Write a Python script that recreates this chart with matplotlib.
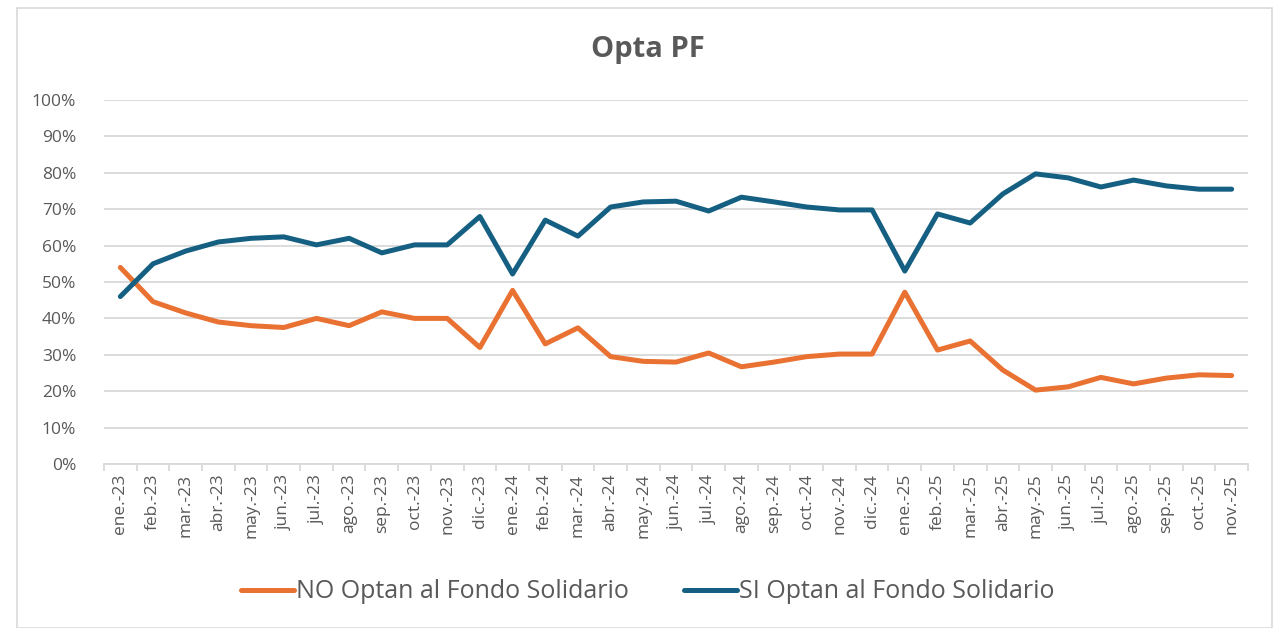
import matplotlib.pyplot as plt
from matplotlib.patches import Rectangle
from matplotlib.ticker import PercentFormatter

plt.rcParams['font.family'] = ['Open Sans', 'DejaVu Sans']

months = ['ene.', 'feb.', 'mar.', 'abr.', 'may.', 'jun.',
          'jul.', 'ago.', 'sep.', 'oct.', 'nov.', 'dic.']
labels = [m + '-' + y for y in ['23', '24', '25'] for m in months][:35]

no_opta = [54.0, 44.6, 41.5, 39.0, 38.0, 37.5, 40.0, 38.0, 41.8, 40.0, 40.0, 32.0,
           47.7, 33.0, 37.4, 29.5, 28.2, 28.0, 30.5, 26.7, 28.0, 29.5, 30.2, 30.2,
           47.2, 31.3, 33.8, 25.8, 20.3, 21.2, 23.8, 22.0, 23.6, 24.5, 24.3]
si_opta = [46.0, 55.0, 58.5, 61.0, 62.0, 62.4, 60.2, 62.0, 58.0, 60.2, 60.2, 68.0,
           52.2, 67.0, 62.6, 70.6, 72.0, 72.2, 69.5, 73.3, 72.0, 70.6, 69.8, 69.8,
           53.0, 68.7, 66.2, 74.2, 79.7, 78.6, 76.1, 78.0, 76.4, 75.5, 75.5]

grey = '#595959'
fig = plt.figure(figsize=(12.81, 6.28), dpi=100)
fig.patches.append(Rectangle((17 / 1281, 0), 1255 / 1281, 620 / 628, transform=fig.transFigure,
                             fill=False, edgecolor='#D9D9D9', linewidth=1.2))
ax = fig.add_axes([104 / 1281, 1 - 464 / 628, 1144 / 1281, 364 / 628])

x = range(len(labels))
ax.plot(x, no_opta, color='#E97132', lw=3.6, solid_capstyle='round', label='NO Optan al Fondo Solidario')
ax.plot(x, si_opta, color='#156082', lw=3.6, solid_capstyle='round', label='SI Optan al Fondo Solidario')

ax.set_xlim(-0.5, len(labels) - 0.5)
ax.set_ylim(0, 100)
ax.set_yticks(range(0, 101, 10))
ax.yaxis.set_major_formatter(PercentFormatter(decimals=0))
ax.set_xticks(list(x))
ax.set_xticklabels(labels, rotation=90)
ax.set_xticks([i - 0.5 for i in range(len(labels) + 1)], minor=True)

ax.grid(axis='y', color='#D9D9D9', lw=1.3)
ax.set_axisbelow(True)
for s in ['top', 'right', 'left']:
    ax.spines[s].set_visible(False)
ax.spines['bottom'].set_color('#D9D9D9')
ax.spines['bottom'].set_linewidth(1.3)
ax.tick_params(axis='y', length=0, pad=20, labelsize=12.5, labelcolor=grey)
ax.tick_params(axis='x', which='major', length=0, pad=7, labelsize=12.5, labelcolor=grey)
ax.tick_params(axis='x', which='minor', length=5, color='#D9D9D9', width=1.3)

fig.text(0.506, 1 - 49 / 628, 'Opta PF', ha='center', va='center',
         fontsize=21, fontweight='bold', color=grey)
fig.legend(loc='center', bbox_to_anchor=(0.506, 1 - 592 / 628), ncol=2, frameon=False,
           fontsize=18, labelcolor=grey, handlelength=2.1, columnspacing=2.2, handletextpad=0.1)

fig.savefig('out.png', dpi=100)
